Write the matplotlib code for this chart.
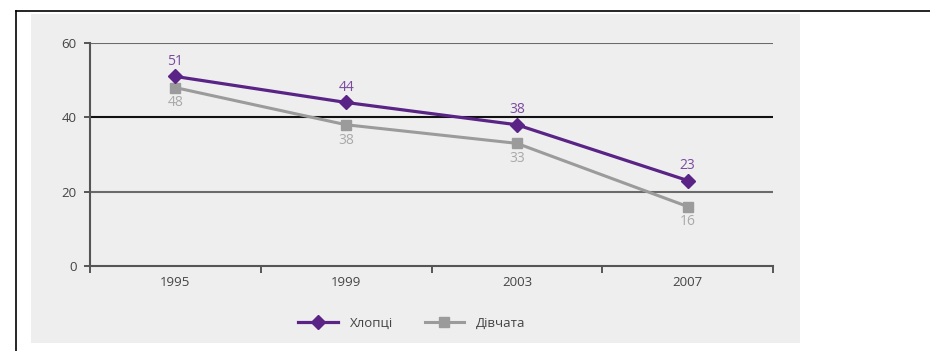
import matplotlib
matplotlib.use('Agg')
import matplotlib.pyplot as plt
from matplotlib.patches import Rectangle
from matplotlib.lines import Line2D

# Частка, % (читаємо з малюнка)
years = ['1995', '1999', '2003', '2007']
boys = [51, 44, 38, 23]
girls = [48, 38, 33, 16]
y_ticks = [0, 20, 40, 60]

plt.rcParams['font.family'] = ['Open Sans', 'DejaVu Sans']

purple = '#5a2386'
purple_txt = '#7b4aa0'
grey = '#9b9b9b'
grey_txt = '#a9a9a9'
axis_col = '#555555'

fig = plt.figure(figsize=(9.3, 3.51), dpi=100)
fig.patch.set_facecolor('white')

# grey panel behind the chart
fig.patches.append(Rectangle((31 / 930, 1 - 343 / 351), (800 - 31) / 930, (343 - 14) / 351,
                             transform=fig.transFigure, facecolor='#eeeeee',
                             edgecolor='none', zorder=-10))
# black frame (top and left)
fig.lines.append(Line2D([16 / 930, 1], [1 - 11 / 351, 1 - 11 / 351], transform=fig.transFigure,
                        color='black', lw=1.2))
fig.lines.append(Line2D([16 / 930, 16 / 930], [0, 1 - 11 / 351], transform=fig.transFigure,
                        color='black', lw=1.2))

ax = fig.add_axes([90 / 930, 1 - 266 / 351, (773 - 90) / 930, (266 - 43) / 351])
ax.set_zorder(5)
ax.patch.set_visible(False)

x = [i + 0.5 for i in range(len(years))]
ax.plot(x, boys, color=purple, lw=2.3, marker='D', ms=7.5, zorder=4, label='Хлопці')
ax.plot(x, girls, color=grey, lw=2.2, marker='s', ms=6.5, zorder=3, label='Дівчата')

for xi, b, g in zip(x, boys, girls):
    ax.annotate(str(b), (xi, b), xytext=(0, 11), textcoords='offset points',
                ha='center', va='center', color=purple_txt, fontsize=10)
    ax.annotate(str(g), (xi, g), xytext=(0, -11), textcoords='offset points',
                ha='center', va='center', color=grey_txt, fontsize=10)

ax.set_xlim(0, len(years))
ax.set_ylim(0, 60)
ax.set_yticks(y_ticks)
ax.set_xticks(range(len(years) + 1))
ax.set_xticklabels([])
ax.set_xticks(x, minor=True)
ax.set_xticklabels(years, minor=True)
ax.tick_params(axis='x', which='minor', length=0, pad=7, labelsize=9.5, labelcolor='#444444')
ax.tick_params(axis='x', which='major', length=5, width=1.4, color=axis_col, direction='out')
ax.tick_params(axis='y', length=4.5, width=1.4, color=axis_col, pad=5, labelsize=9.5,
               labelcolor='#444444')

for s in ['top', 'right']:
    ax.spines[s].set_visible(False)
for s in ['left', 'bottom']:
    ax.spines[s].set_color(axis_col)
    ax.spines[s].set_linewidth(1.5)

ax.yaxis.grid(True, color='#6a6a6a', lw=1.5)
ax.set_axisbelow(True)
for val, gl in zip(y_ticks, ax.get_ygridlines()):
    if val == 40:
        gl.set_color('#111111')
    if val == 0:
        gl.set_visible(False)

fig.legend(loc='center', bbox_to_anchor=(0.443, 1 - 323 / 351), ncol=2, frameon=False,
           handlelength=3.0, handletextpad=0.9, columnspacing=2.4, fontsize=9.5,
           labelcolor='#444444')

fig.savefig('out.png', dpi=100)
